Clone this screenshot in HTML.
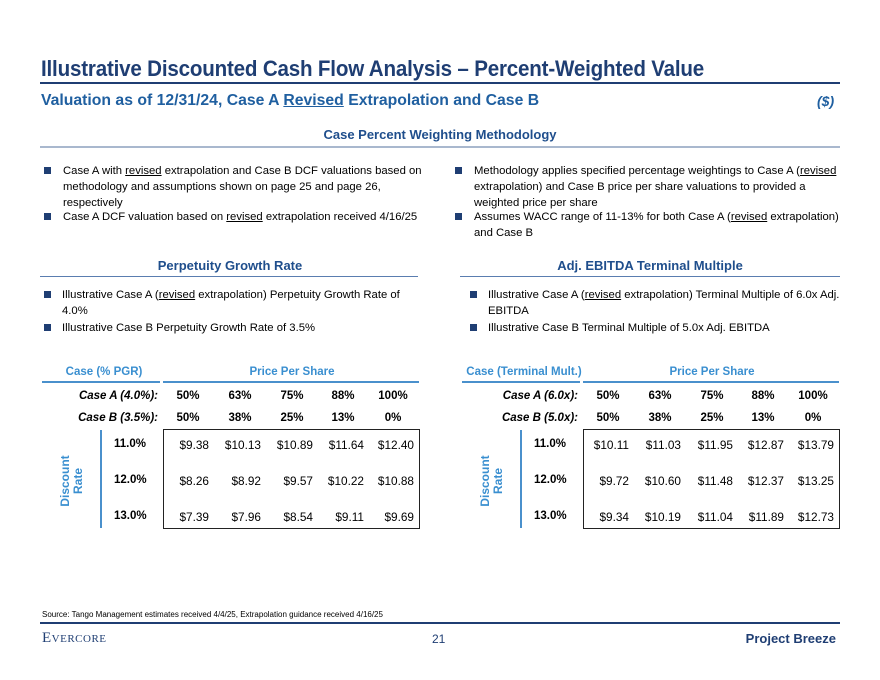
<!DOCTYPE html>
<html><head><meta charset="utf-8">
<style>
*{margin:0;padding:0;box-sizing:border-box}
body{width:880px;height:680px;background:#fff;position:relative;overflow:hidden;font-family:"Liberation Sans",Arial,sans-serif;color:#000}
.a{position:absolute;white-space:nowrap}
.title{left:41px;top:56px;font-size:22px;font-weight:bold;color:#1F3E73;letter-spacing:-0.2px;transform:scaleX(0.935);transform-origin:left top}
.hl{position:absolute;height:0}
.sub{left:41px;top:92px;font-size:16px;font-weight:bold;color:#1F5FA0;transform:scaleX(0.985);transform-origin:left top}
.sec{font-size:13px;font-weight:bold;color:#1F4E8C;text-align:center}
.bul{position:absolute;font-size:11.3px;line-height:16px;white-space:normal}
.sq{position:absolute;width:7px;height:7px;background:#1F3E73}
u{text-decoration:underline}
</style></head><body>
<div class="a title">Illustrative Discounted Cash Flow Analysis – Percent-Weighted Value</div>
<div class="hl" style="left:40px;top:82px;width:800px;border-top:2px solid #1F3E73"></div>
<div class="a sub">Valuation as of 12/31/24, Case A <u>Revised</u> Extrapolation and Case B</div>
<div class="a" style="left:817px;top:93px;font-size:14px;font-weight:bold;font-style:italic;color:#1F5FA0">($)</div>
<div class="a sec" style="left:40px;width:800px;top:127px">Case Percent Weighting Methodology</div>
<div class="hl" style="left:40px;top:146px;width:800px;border-top:2px solid #A9B8CE"></div>

<div class="sq" style="left:44px;top:167px"></div>
<div class="bul" style="left:63px;top:163px;width:370px">Case A with <u>revised</u> extrapolation and Case B DCF valuations based on methodology and assumptions shown on page 25 and page 26, respectively</div>
<div class="sq" style="left:44px;top:213px"></div>
<div class="bul" style="left:63px;top:209px;width:380px">Case A DCF valuation based on <u>revised</u> extrapolation received 4/16/25</div>
<div class="sq" style="left:455px;top:167px"></div>
<div class="bul" style="left:474px;top:163px;width:372px">Methodology applies specified percentage weightings to Case A (<u>revised</u> extrapolation) and Case B price per share valuations to provided a weighted price per share</div>
<div class="sq" style="left:455px;top:213px"></div>
<div class="bul" style="left:474px;top:209px;width:390px">Assumes WACC range of 11-13% for both Case A (<u>revised</u> extrapolation)<br>and Case B</div>

<div class="a sec" style="left:40px;width:380px;top:258px">Perpetuity Growth Rate</div>
<div class="hl" style="left:40px;top:276px;width:378px;border-top:1px solid #5A7DB0"></div>
<div class="a sec" style="left:460px;width:380px;top:258px">Adj. EBITDA Terminal Multiple</div>
<div class="hl" style="left:460px;top:276px;width:380px;border-top:1px solid #5A7DB0"></div>

<div class="sq" style="left:44px;top:291px"></div>
<div class="bul" style="left:62px;top:287px;width:360px">Illustrative Case A (<u>revised</u> extrapolation) Perpetuity Growth Rate of 4.0%</div>
<div class="sq" style="left:44px;top:324px"></div>
<div class="bul" style="left:62px;top:320px;width:360px">Illustrative Case B Perpetuity Growth Rate of 3.5%</div>
<div class="sq" style="left:470px;top:291px"></div>
<div class="bul" style="left:488px;top:287px;width:360px">Illustrative Case A (<u>revised</u> extrapolation) Terminal Multiple of 6.0x Adj. EBITDA</div>
<div class="sq" style="left:470px;top:324px"></div>
<div class="bul" style="left:488px;top:320px;width:360px">Illustrative Case B Terminal Multiple of 5.0x Adj. EBITDA</div>

<div id="tables"></div>

<div class="a" style="left:42px;top:610px;font-size:8px">Source: Tango Management estimates received 4/4/25, Extrapolation guidance received 4/16/25</div>
<div class="hl" style="left:40px;top:622px;width:800px;border-top:2px solid #1F3E73"></div>
<div class="a" style="left:42px;top:630px;font-family:'Liberation Serif',serif;font-size:15px;color:#1F3E73;font-variant:small-caps;letter-spacing:0.5px">Evercore</div>
<div class="a" style="left:432px;top:632px;font-size:12px;color:#1F3E73">21</div>
<div class="a" style="right:44px;top:631px;font-size:13px;font-weight:bold;color:#1F3E73">Project Breeze</div>

<script>
const weightsA=["50%","63%","75%","88%","100%"];
const weightsB=["50%","38%","25%","13%","0%"];
const rates=["11.0%","12.0%","13.0%"];
const pgrValues=[["$9.38","$10.13","$10.89","$11.64","$12.40"],["$8.26","$8.92","$9.57","$10.22","$10.88"],["$7.39","$7.96","$8.54","$9.11","$9.69"]];
const tmValues=[["$10.11","$11.03","$11.95","$12.87","$13.79"],["$9.72","$10.60","$11.48","$12.37","$13.25"],["$9.34","$10.19","$11.04","$11.89","$12.73"]];

function buildTable(ox,caseLabel,labelA,labelB,vals,prefix,caseLineW){
  const root=document.getElementById('tables');
  function add(html,css,name){
    const d=document.createElement('div');
    d.className='a';d.style.cssText=css;d.innerHTML=html;
    
    
    root.appendChild(d);return d;
  }
  add(caseLabel,`left:${ox+3}px;top:366px;width:${caseLineW}px;text-align:center;font-size:11.5px;font-weight:bold;color:#3A8FD0`,prefix+'-case-header');
  add('',`left:${ox}px;top:381px;width:${caseLineW}px;height:0;border-top:2px solid #4A90CC`,prefix+'-case-rule');
  add('Price Per Share',`left:${ox+122}px;top:366px;width:256px;text-align:center;font-size:11.5px;font-weight:bold;color:#3A8FD0`,prefix+'-price-header');
  add('',`left:${ox+121}px;top:381px;width:256px;height:0;border-top:2px solid #4A90CC`,prefix+'-price-rule');
  add(labelA,`left:${ox}px;width:116px;text-align:right;top:390px;font-size:11.5px;font-style:italic;font-weight:bold`,prefix+'-case-a-label');
  add(labelB,`left:${ox}px;width:116px;text-align:right;top:412px;font-size:11.5px;font-style:italic;font-weight:bold`,prefix+'-case-b-label');
  const colR=[45,97,149,200,250];
  weightsA.forEach((w,i)=>add(w,`left:${ox+121+colR[i]-40}px;width:40px;text-align:center;top:390px;font-size:11.5px;font-weight:bold`,prefix+'-weight-a-'+i));
  weightsB.forEach((w,i)=>add(w,`left:${ox+121+colR[i]-40}px;width:40px;text-align:center;top:412px;font-size:11.5px;font-weight:bold`,prefix+'-weight-b-'+i));
  add('',`left:${ox+121}px;top:429px;width:257px;height:100px;border:1.5px solid #222`,prefix+'-value-box');
  add('',`left:${ox+58}px;top:430px;width:0;height:98px;border-left:2px solid #4A90CC`,prefix+'-rate-rule');
  add('Discount<br>Rate',`left:${ox+30-30}px;top:468px;width:60px;text-align:center;font-size:12px;font-weight:bold;color:#3A8FD0;line-height:13px;transform:rotate(-90deg);white-space:normal`,prefix+'-discount-label');
  rates.forEach((r,ri)=>{
    const y=438+ri*36;
    add(r,`left:${ox+72}px;top:${y}px;font-size:11.5px;font-weight:bold`,prefix+'-rate-'+ri);
    vals[ri].forEach((v,ci)=>{
      add(v,`left:${ox+121+colR[ci]+1-60}px;width:60px;text-align:right;top:${y}px;font-size:11.8px`,prefix+'-value-'+ri+'-'+ci);
    });
  });
}
buildTable(42,'Case (% PGR)','Case A (4.0%):','Case B (3.5%):',pgrValues,'pgr',118);
buildTable(462,'Case (Terminal Mult.)','Case A (6.0x):','Case B (5.0x):',tmValues,'tm',118);
</script>
</body></html>
